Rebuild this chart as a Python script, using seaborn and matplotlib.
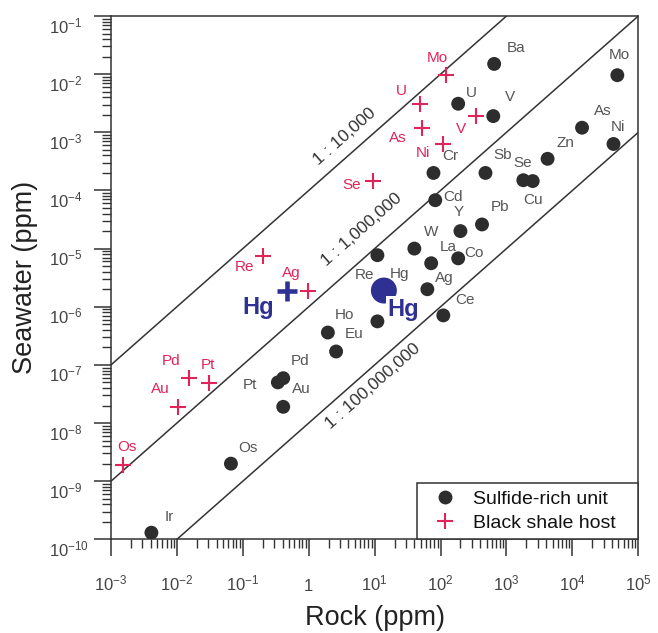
import numpy as np
import pandas as pd
import matplotlib
matplotlib.use("Agg")
import matplotlib.pyplot as plt
import seaborn as sns
from matplotlib.ticker import LogLocator, FuncFormatter, NullFormatter
from matplotlib.lines import Line2D

# ---------------------------------------------------------------------------
# Data: element concentrations, rock (ppm) vs seawater (ppm)
# ---------------------------------------------------------------------------
sulfide_elements = ["Ba", "Mo", "U", "V", "As", "Ni", "Zn", "Cr", "Sb", "Se",
                    "Cu", "Cd", "Pb", "Y", "W", "Re", "Co", "La", "Hg", "Ag",
                    "Ce", "", "Ho", "Eu", "Pd", "Pt", "Au", "Os", "Ir"]
sulfide_rock = [650, 4.8e4, 185, 630, 1.4e4, 4.2e4, 4.2e3, 78, 480, 1.8e3,
                2.5e3, 83, 425, 200, 40, 11, 185, 72, 13.8, 63,
                110, 11, 1.95, 2.6, 0.41, 0.34, 0.41, 0.066, 0.0041]
sulfide_seawater = [1.5e-2, 9.6e-3, 3.1e-3, 1.9e-3, 1.2e-3, 6.3e-4, 3.5e-4, 2.0e-4, 2.0e-4, 1.5e-4,
                    1.45e-4, 6.8e-5, 2.6e-5, 2.0e-5, 1.0e-5, 7.7e-6, 6.8e-6, 5.6e-6, 1.9e-6, 2.0e-6,
                    7.1e-7, 5.6e-7, 3.6e-7, 1.7e-7, 5.9e-8, 5.0e-8, 1.9e-8, 2.0e-9, 1.3e-10]

shale_elements = ["Mo", "U", "V", "As", "Ni", "Se", "Re", "Ag", "Pd", "Pt", "Au", "Os"]
shale_rock = [120, 49, 350, 52, 110, 9.5, 0.20, 0.98, 0.015, 0.031, 0.0105, 0.0015]
shale_seawater = [9.6e-3, 3.1e-3, 1.9e-3, 1.2e-3, 6.3e-4, 1.45e-4, 7.4e-6, 1.9e-6,
                  5.9e-8, 4.8e-8, 1.9e-8, 1.9e-9]

# Mercury highlighted in both units
hg_sulfide = (13.8, 1.9e-6)
hg_shale = (0.47, 1.9e-6)

# Constant seawater/rock ratio lines
ratio_values = [1e-4, 1e-6, 1e-8]
ratio_labels = ["1 : 10,000", "1 : 1,000,000", "1 : 100,000,000"]

x_ticks = [1e-3, 1e-2, 1e-1, 1, 1e1, 1e2, 1e3, 1e4, 1e5]
y_ticks = [1e-10, 1e-9, 1e-8, 1e-7, 1e-6, 1e-5, 1e-4, 1e-3, 1e-2, 1e-1]

legend_labels = ["Sulfide-rich unit", "Black shale host"]

# ---------------------------------------------------------------------------
# Label placement (offsets in pixels: right, down)
# ---------------------------------------------------------------------------
sulfide_label_offsets = [(22, -16), (2, -20), (13, -11), (17, -19), (21, -17), (4, -17),
                         (18, -16), (17, -17), (17, -18), (-1, -17), (0, 19), (18, -3),
                         (18, -17), (-2, -19), (17, -17), (-13, 20), (16, -5), (17, -16),
                         (16, -17), (17, -11), (22, -15), (0, 0), (17, -18), (18, -17),
                         (17, -17), (-28, 3), (18, -18), (17, -16), (18, -16)]
shale_label_offsets = [(-8, -17), (-19, -13), (-15, 13), (-24, 10), (-20, 9), (-22, 4),
                       (-18, 11), (-17, -18), (-17, -17), (-1, -18), (-18, -18), (4, -18)]
ratio_label_anchor = [5.2, 10.8, 6.6]      # rock value along each line
ratio_label_dist = [16.5, 22.5, -14.9]     # perpendicular distance, pixels

DARK = "#2d2d2d"
GREY_TXT = "#555555"
RED = "#E0245A"
BLUE = "#2E3192"
PX = 0.72  # points per pixel at 100 dpi

sns.set_style("ticks")
plt.rcParams["font.family"] = ["Liberation Sans", "DejaVu Sans"]
plt.rcParams["mathtext.fontset"] = "custom"
plt.rcParams["mathtext.rm"] = "Liberation Sans"
plt.rcParams["mathtext.it"] = "Liberation Sans:italic"
plt.rcParams["mathtext.bf"] = "Liberation Sans:bold"
plt.rcParams["mathtext.default"] = "regular"

sulfide_df = pd.DataFrame({"element": sulfide_elements, "rock": sulfide_rock,
                           "seawater": sulfide_seawater})
shale_df = pd.DataFrame({"element": shale_elements, "rock": shale_rock,
                         "seawater": shale_seawater})

fig = plt.figure(figsize=(6.58, 6.33), dpi=100)
ax = fig.add_axes([0.1687, 0.1480, 0.8014, 0.8267])
ax.set_xscale("log")
ax.set_yscale("log")
ax.set_xlim(1e-3, 1e5)
ax.set_ylim(1e-10, 1e-1)

# Ratio lines
xs = np.array([1e-3, 1e5])
for r in ratio_values:
    ax.plot(xs, xs * r, color="#333333", lw=1.1, zorder=1)

p0 = ax.transData.transform((1, 1e-4))
p1 = ax.transData.transform((10, 1e-3))
theta = np.degrees(np.arctan2(p1[1] - p0[1], p1[0] - p0[0]))
nx, ny = -np.sin(np.radians(theta)), np.cos(np.radians(theta))
for r, lab, a, d in zip(ratio_values, ratio_labels, ratio_label_anchor, ratio_label_dist):
    ax.annotate(lab, xy=(a, a * r), xytext=(d * PX * nx, d * PX * ny),
                textcoords="offset points", rotation=theta, rotation_mode="anchor",
                ha="center", va="center", fontsize=12.5, color="#333333")

# Scatter points
sns.scatterplot(data=sulfide_df, x="rock", y="seawater", ax=ax, marker="o", s=100,
                color=DARK, edgecolor="none", linewidth=0, zorder=3, legend=False)
sns.scatterplot(data=shale_df, x="rock", y="seawater", ax=ax, marker="+", s=125,
                color=RED, linewidth=1.5, zorder=3, legend=False)

for row, (dx, dy) in zip(sulfide_df.itertuples(), sulfide_label_offsets):
    if row.element:
        ax.annotate(row.element, xy=(row.rock, row.seawater), xytext=(dx * PX, -dy * PX),
                    textcoords="offset points", ha="center", va="center",
                    fontsize=11, color=GREY_TXT, zorder=2)
for row, (dx, dy) in zip(shale_df.itertuples(), shale_label_offsets):
    ax.annotate(row.element, xy=(row.rock, row.seawater), xytext=(dx * PX, -dy * PX),
                textcoords="offset points", ha="center", va="center",
                fontsize=11, color=RED, zorder=2)

# Highlighted mercury
sns.scatterplot(x=[hg_sulfide[0]], y=[hg_sulfide[1]], ax=ax, marker="o", s=350,
                color=BLUE, edgecolor="none", linewidth=0, zorder=4, legend=False)
sns.scatterplot(x=[hg_shale[0]], y=[hg_shale[1]], ax=ax, marker="+", s=210,
                color=BLUE, linewidth=3.3, zorder=4, legend=False)
ax.annotate("Hg", xy=hg_shale, xytext=(-29 * PX, -17 * PX), textcoords="offset points",
            ha="center", va="center", fontsize=17, fontweight="bold", color=BLUE, zorder=5)
ax.annotate("Hg", xy=hg_sulfide, xytext=(3 * PX, -7 * PX), textcoords="offset points",
            ha="left", va="top", fontsize=17, fontweight="bold", color=BLUE, zorder=5,
            bbox=dict(boxstyle="square,pad=0.05", fc="white", ec="none"))

# Axes, ticks
ax.xaxis.set_major_locator(LogLocator(base=10, numticks=20))
ax.yaxis.set_major_locator(LogLocator(base=10, numticks=20))
ax.xaxis.set_minor_locator(LogLocator(base=10, subs=np.arange(2, 10), numticks=20))
ax.yaxis.set_minor_locator(LogLocator(base=10, subs=np.arange(2, 10), numticks=20))
ax.set_xticks(x_ticks)
ax.set_yticks(y_ticks)


def power_label(v, pos):
    e = int(round(np.log10(v)))
    return "1" if e == 0 else r"$10^{%d}$" % e


ax.xaxis.set_major_formatter(FuncFormatter(power_label))
ax.yaxis.set_major_formatter(FuncFormatter(power_label))
ax.xaxis.set_minor_formatter(NullFormatter())
ax.yaxis.set_minor_formatter(NullFormatter())
ax.set_xlim(1e-3, 1e5)
ax.set_ylim(1e-10, 1e-1)

ax.tick_params(which="major", direction="out", length=12, width=1.1, color="#333333",
               labelsize=12, labelcolor="#444444")
ax.tick_params(which="minor", direction="out", length=6.5, width=1.0, color="#333333")
ax.tick_params(axis="y", which="major", pad=32.6)
ax.tick_params(axis="x", which="major", pad=25)
for t in ax.yaxis.get_major_ticks():
    t.label1.set_horizontalalignment("left")
    t.label1.set_verticalalignment("top")
for t in ax.xaxis.get_major_ticks():
    t.label1.set_verticalalignment("baseline")

for sp in ax.spines.values():
    sp.set_visible(True)
    sp.set_linewidth(1.1)
    sp.set_color("#333333")

ax.set_xlabel("Rock (ppm)", fontsize=19.5, color="#222222")
ax.set_ylabel("Seawater (ppm)", fontsize=19.5, color="#222222")
ax.xaxis.set_label_coords(0.5, -0.150)
ax.xaxis.label.set_va("center")
ax.yaxis.set_label_coords(-0.163, 0.5)
ax.yaxis.label.set_va("center")

# Legend
handles = [Line2D([], [], ls="none", marker="o", markersize=10, color=DARK, mec="none"),
           Line2D([], [], ls="none", marker="+", markersize=12, mew=1.5, color=RED)]
leg = ax.legend(handles, legend_labels, loc="lower left",
                bbox_to_anchor=(0.581, 0.0, 0.419, 0.109), mode="expand",
                borderaxespad=0, frameon=True, fancybox=False, edgecolor="#333333",
                fontsize=14, handlelength=2.0, handletextpad=0.45, borderpad=0.4,
                labelspacing=0.3)
leg.get_frame().set_linewidth(1.1)
leg.get_frame().set_facecolor("white")
leg.get_frame().set_alpha(1)
for txt in leg.get_texts():
    txt.set_color("#111111")
leg.set_zorder(6)

fig.savefig("out.png", dpi=100)
